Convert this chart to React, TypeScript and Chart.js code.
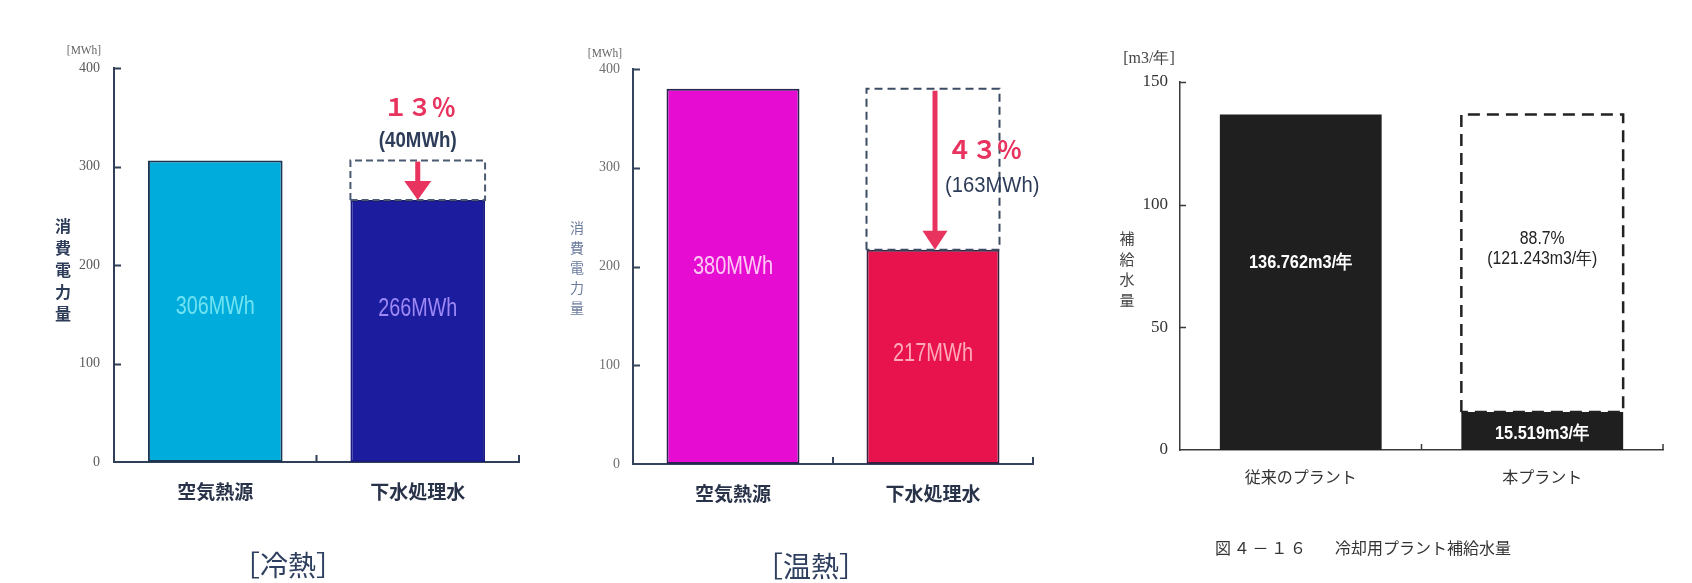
import React, { useEffect, useRef } from 'react';
import { Chart, registerables } from 'chart.js';

Chart.register(...registerables);

// ---------- data ----------
// Panel 1: 冷熱
const coolCategories = ['空気熱源', '下水処理水'];
const coolValues = [306, 266];
const coolValueLabels = ['306MWh', '266MWh'];
const coolValueLabelAt = [158, 155];
const coolSavingLabels = ['１３％', '(40MWh)'];
const coolSavingAt = [361, 326];

// Panel 2: 温熱
const warmCategories = ['空気熱源', '下水処理水'];
const warmValues = [380, 217];
const warmValueLabels = ['380MWh', '217MWh'];
const warmValueLabelAt = [200, 112];
const warmSavingLabels = ['４３％', '(163MWh)'];
const warmSavingAt = [318, 282];

// Panel 3: 冷却用プラント補給水量
const waterCategories = ['従来のプラント', '本プラント'];
const waterValues = [136.762, 15.519];
const waterValueLabels = ['136.762m3/年', '15.519m3/年'];
const waterValueLabelAt = [76.4, 6.5];
const waterSavingLabels = ['88.7%', '(121.243m3/年)'];
const waterSavingAt = [86, 78];

// ---------- fonts ----------
const JP = '"Noto Sans CJK JP", "Noto Sans", sans-serif';
const SERIF = '"Liberation Serif", "DejaVu Serif", serif';
const SANS = '"Liberation Sans", Arial, sans-serif';

type Ctx = CanvasRenderingContext2D;

function text(ctx: Ctx, s: string, x: number, y: number, font: string, color: string, align: CanvasTextAlign = 'center', sx = 1) {
  ctx.save();
  ctx.font = font;
  ctx.fillStyle = color;
  ctx.textAlign = align;
  ctx.textBaseline = 'middle';
  ctx.translate(x, y);
  ctx.scale(sx, 1);
  ctx.fillText(s, 0, 0);
  ctx.restore();
}

function vtext(ctx: Ctx, s: string, x: number, y0: number, step: number, font: string, color: string) {
  Array.from(s).forEach((ch, i) => text(ctx, ch, x, y0 + i * step, font, color));
}

function dashedRect(ctx: Ctx, l: number, t: number, r: number, b: number, color: string, w: number, dash: number[]) {
  ctx.save();
  ctx.strokeStyle = color;
  ctx.lineWidth = w;
  ctx.setLineDash(dash);
  ctx.beginPath();
  ctx.moveTo(l, b);
  ctx.lineTo(l, t);
  ctx.lineTo(r, t);
  ctx.lineTo(r, b);
  ctx.lineTo(l, b);
  ctx.stroke();
  ctx.restore();
}

function arrow(ctx: Ctx, x: number, y0: number, y1: number, color: string, shaftW: number, headW: number, headH: number) {
  ctx.save();
  ctx.fillStyle = color;
  ctx.fillRect(x - shaftW / 2, y0, shaftW, y1 - headH - y0 + 1);
  ctx.beginPath();
  ctx.moveTo(x - headW / 2, y1 - headH);
  ctx.lineTo(x + headW / 2, y1 - headH);
  ctx.lineTo(x, y1);
  ctx.closePath();
  ctx.fill();
  ctx.restore();
}

interface Helpers {
  ctx: Ctx;
  bx: (i: number) => number;
  bw: (i: number) => number;
  py: (v: number) => number;
  X: (full: number) => number;
}

interface Panel {
  left: number;
  width: number;
  height: number;
  area: { left: number; right: number; top: number; bottom: number };
  categories: string[];
  values: number[];
  fill: string[];
  stroke: string[];
  borderWidth: number;
  barPct: number;
  max: number;
  step: number;
  axisColor: string;
  axisWidth: number;
  tickLen: number;
  tickFont: any;
  tickColor: string;
  tickPad: number;
  catFont: any;
  catColor: string;
  catPad: number;
  extras: (h: Helpers) => void;
}

const RED = '#e8335f';
const NAVY = '#2d3c58';

const panel1: Panel = {
  left: 0,
  width: 560,
  height: 583,
  area: { left: 114, right: 519, top: 68, bottom: 462 },
  categories: coolCategories,
  values: coolValues,
  fill: ['#00acdc', '#1c1c9e'],
  stroke: ['#1d3550', '#1c1c80'],
  borderWidth: 2,
  barPct: 0.665,
  max: 400,
  step: 100,
  axisColor: '#2f3f58',
  axisWidth: 2,
  tickLen: 7,
  tickFont: { family: SERIF, size: 14 },
  tickColor: '#5a5a5a',
  tickPad: 14,
  catFont: { family: JP, size: 19, weight: 'bold' },
  catColor: '#283248',
  catPad: 18,
  extras: ({ ctx, bx, bw, py, X }) => {
    const colors = ['#6fe3f2', '#9d88f5'];
    coolValueLabels.forEach((s, i) => text(ctx, s, bx(i), py(coolValueLabelAt[i]), `26px ${SANS}`, colors[i], 'center', 0.76));
    dashedRect(ctx, bx(1) - bw(1) / 2, py(coolValues[0]), bx(1) + bw(1) / 2, py(coolValues[1]), '#4a5a72', 2, [7, 4]);
    arrow(ctx, bx(1), py(coolValues[0]) + 1, py(coolValues[1]), RED, 5, 27, 19);
    text(ctx, coolSavingLabels[0], bx(1) + 2, py(coolSavingAt[0]), `bold 24px ${JP}`, RED);
    text(ctx, coolSavingLabels[1], bx(1), py(coolSavingAt[1]), `bold 22px ${SANS}`, NAVY, 'center', 0.85);
    text(ctx, '[MWh]', X(84), 51, `13px ${SERIF}`, '#666', 'center', 0.88);
    vtext(ctx, '消費電力量', X(63), 226, 22, `bold 16px ${JP}`, NAVY);
    text(ctx, '［冷熱］', X(288), 565, `28px ${JP}`, '#2f3f60');
  },
};

const panel2: Panel = {
  left: 560,
  width: 530,
  height: 583,
  area: { left: 73, right: 473, top: 69, bottom: 464 },
  categories: warmCategories,
  values: warmValues,
  fill: ['#e60cd2', '#e8124c'],
  stroke: ['#2c2450', '#3a2040'],
  borderWidth: 2,
  barPct: 0.665,
  max: 400,
  step: 100,
  axisColor: '#34445c',
  axisWidth: 2,
  tickLen: 7,
  tickFont: { family: SERIF, size: 14 },
  tickColor: '#707070',
  tickPad: 13,
  catFont: { family: JP, size: 19, weight: 'bold' },
  catColor: '#283248',
  catPad: 18,
  extras: ({ ctx, bx, bw, py, X }) => {
    const colors = ['#ffc8f4', '#ffa8b8'];
    warmValueLabels.forEach((s, i) => text(ctx, s, bx(i), py(warmValueLabelAt[i]), `26px ${SANS}`, colors[i], 'center', 0.77));
    dashedRect(ctx, bx(1) - bw(1) / 2, py(warmValues[0]), bx(1) + bw(1) / 2, py(warmValues[1]), '#3c4c64', 2, [8, 5]);
    arrow(ctx, bx(1) + 2, py(warmValues[0]) + 2, py(warmValues[1]), RED, 5, 25, 19);
    text(ctx, warmSavingLabels[0], bx(1) + 14, py(warmSavingAt[0]), `bold 25px ${JP}`, RED, 'left');
    text(ctx, warmSavingLabels[1], bx(1) + 12, py(warmSavingAt[1]), `22px ${SANS}`, NAVY, 'left', 0.92);
    text(ctx, '[MWh]', X(605), 54, `13px ${SERIF}`, '#666', 'center', 0.88);
    vtext(ctx, '消費電力量', X(577), 227.5, 20, `14px ${JP}`, '#6c7c9c');
    text(ctx, '［温熱］', X(811), 566, `28px ${JP}`, '#2f3f60');
  },
};

const panel3: Panel = {
  left: 1090,
  width: 602,
  height: 583,
  area: { left: 90, right: 573, top: 82, bottom: 450 },
  categories: waterCategories,
  values: waterValues,
  fill: ['#1f1f1f', '#1f1f1f'],
  stroke: ['#1f1f1f', '#1f1f1f'],
  borderWidth: 0,
  barPct: 0.67,
  max: 150,
  step: 50,
  axisColor: '#3a3a3a',
  axisWidth: 1.5,
  tickLen: 6,
  tickFont: { family: SERIF, size: 17 },
  tickColor: '#333',
  tickPad: 12,
  catFont: { family: JP, size: 16 },
  catColor: '#333',
  catPad: 17,
  extras: ({ ctx, bx, bw, py, X }) => {
    dashedRect(ctx, bx(1) - bw(1) / 2, py(waterValues[0]), bx(1) + bw(1) / 2, py(waterValues[1]), '#222', 2.5, [12, 7]);
    waterValueLabels.forEach((s, i) => text(ctx, s, bx(i), py(waterValueLabelAt[i]), `bold 19px ${SANS}`, '#fff', 'center', 0.86));
    waterSavingLabels.forEach((s, i) => text(ctx, s, bx(1), py(waterSavingAt[i]), `18px ${SANS}`, '#222', 'center', 0.88));
    text(ctx, '[m3/年]', X(1149), 59, `16px ${SERIF}`, '#444');
    vtext(ctx, '補給水量', X(1127), 238.5, 20.5, `15px ${JP}`, '#444');
    Array.from('図４－１６').forEach((ch, i) => text(ctx, ch, X(1223 + i * 18.75), 548, `16px ${JP}`, '#333'));
    text(ctx, '冷却用プラント補給水量', X(1335), 548, `16px ${JP}`, '#333', 'left');
  },
};

const panels = [panel1, panel2, panel3];

function build(canvas: HTMLCanvasElement, p: Panel) {
  const extrasPlugin = {
    id: 'extras',
    afterDatasetsDraw(chart: any) {
      const ctx = chart.ctx as Ctx;
      const meta = chart.getDatasetMeta(0);
      const ys = chart.scales.y;
      const h: Helpers = {
        ctx,
        bx: (i) => meta.data[i].getProps(['x'], true).x,
        bw: (i) => meta.data[i].getProps(['width'], true).width,
        py: (v) => ys.getPixelForValue(v),
        X: (full) => full - p.left,
      };
      p.extras(h);
    },
    afterDraw(chart: any) {
      const ctx = chart.ctx as Ctx;
      const ys = chart.scales.y;
      const xs = chart.scales.x;
      const ca = chart.chartArea;
      ctx.save();
      ctx.strokeStyle = p.axisColor;
      ctx.lineWidth = p.axisWidth;
      ctx.beginPath();
      ys.ticks.forEach((t: any) => {
        if (t.value === 0) return;
        const y = Math.round(ys.getPixelForValue(t.value)) + 0.5;
        ctx.moveTo(ca.left, y);
        ctx.lineTo(ca.left + p.tickLen, y);
      });
      const n = p.categories.length;
      for (let i = 1; i <= n; i++) {
        const x = i < n ? (xs.getPixelForValue(i - 1) + xs.getPixelForValue(i)) / 2 : ca.right;
        ctx.moveTo(x, ca.bottom);
        ctx.lineTo(x, ca.bottom - p.tickLen);
      }
      ctx.stroke();
      ctx.restore();
    },
  };

  return new Chart(canvas, {
    type: 'bar',
    data: {
      labels: p.categories,
      datasets: [
        {
          data: p.values,
          backgroundColor: p.fill,
          borderColor: p.stroke,
          borderWidth: p.borderWidth,
          borderSkipped: false,
          barPercentage: p.barPct,
          categoryPercentage: 1,
        },
      ],
    },
    options: {
      animation: false,
      responsive: false,
      maintainAspectRatio: false,
      devicePixelRatio: 1,
      layout: { padding: { left: 0, top: p.area.top, right: p.width - p.area.right, bottom: 0 } },
      plugins: { legend: { display: false }, tooltip: { enabled: false }, title: { display: false } },
      scales: {
        x: {
          type: 'category',
          offset: true,
          grid: { display: false, drawTicks: false },
          border: { display: true, color: p.axisColor, width: p.axisWidth },
          ticks: { font: p.catFont, color: p.catColor, padding: p.catPad, maxRotation: 0, autoSkip: false },
          afterFit: (s: any) => {
            s.height = p.height - p.area.bottom;
          },
        },
        y: {
          type: 'linear',
          min: 0,
          max: p.max,
          grid: { display: false, drawTicks: false },
          border: { display: true, color: p.axisColor, width: p.axisWidth },
          ticks: { stepSize: p.step, font: p.tickFont, color: p.tickColor, padding: p.tickPad },
          afterFit: (s: any) => {
            s.width = p.area.left;
          },
        },
      },
    } as any,
    plugins: [extrasPlugin],
  });
}

export default function App() {
  const r1 = useRef<HTMLCanvasElement>(null);
  const r2 = useRef<HTMLCanvasElement>(null);
  const r3 = useRef<HTMLCanvasElement>(null);
  const refs = [r1, r2, r3];

  useEffect(() => {
    const charts = panels.map((p, i) => build(refs[i].current as HTMLCanvasElement, p));
    return () => charts.forEach((c) => c.destroy());
  }, []);

  return (
    <div style={{ position: 'absolute', left: 0, top: 0, width: 1692, height: 583, background: '#fff', overflow: 'hidden' }}>
      {panels.map((p, i) => (
        <canvas
          key={i}
          ref={refs[i]}
          width={p.width}
          height={p.height}
          style={{ position: 'absolute', left: p.left, top: 0, width: p.width, height: p.height }}
        />
      ))}
    </div>
  );
}
